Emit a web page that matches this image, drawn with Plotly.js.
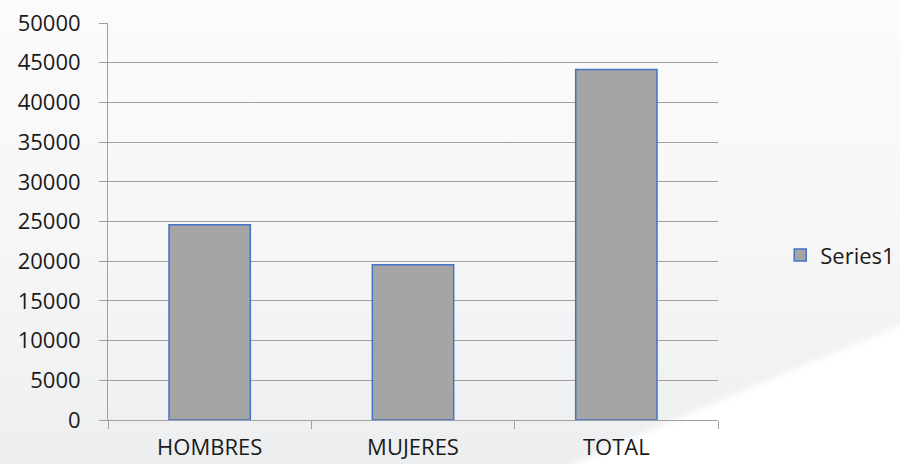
<!DOCTYPE html>
<html>
<head>
<meta charset="utf-8">
<script src="https://cdn.plot.ly/plotly-3.0.1.min.js"></script>
<style>
  html, body { margin: 0; padding: 0; width: 900px; height: 464px; overflow: hidden; }
  body { background: linear-gradient(to bottom, #fbfbfb 0%, #f6f6f7 55%, #eceef0 100%); position: relative; }
  #bg { position: absolute; left: 0; top: 0; width: 900px; height: 464px; }
  #chart { position: absolute; left: 0; top: 0; width: 900px; height: 464px; }
</style>
</head>
<body>
<svg id="bg" width="900" height="464">
  <defs>
    <filter id="blur"><feGaussianBlur stdDeviation="3"/></filter>
  </defs>
  <path d="M 560 470 Q 740 390 910 322 L 910 470 Z" fill="#ffffff" filter="url(#blur)"/>
</svg>
<div id="chart"></div>
<script>
const categories = ["HOMBRES", "MUJERES", "TOTAL"];
const series1 = [24600, 19550, 44150];
const yTicks = [0, 5000, 10000, 15000, 20000, 25000, 30000, 35000, 40000, 45000, 50000];

const font = "Open Sans, Noto Sans, sans-serif";

const data = [{
  type: "bar",
  name: "Series1",
  x: categories,
  y: series1,
  marker: { color: "#a5a5a5", line: { color: "#4472c4", width: 1.5 } },
  hoverinfo: "x+y"
}];

const layout = {
  width: 900, height: 464,
  margin: { l: 108, r: 182, t: 23, b: 44, pad: 0, autoexpand: false },
  paper_bgcolor: "rgba(0,0,0,0)",
  plot_bgcolor: "rgba(0,0,0,0)",
  bargap: 0.6,
  font: { family: font, size: 22, color: "#1a1a1a" },
  showlegend: true,
  legend: {
    x: 1.102, y: 0.415, xanchor: "left", yanchor: "middle",
    bgcolor: "rgba(0,0,0,0)",
    font: { family: font, size: 22, color: "#1a1a1a" },
    itemwidth: 30
  },
  xaxis: {
    type: "category",
    showgrid: false,
    showline: true, linecolor: "#a0a0a0", linewidth: 1,
    ticks: "outside", ticklen: 8, tickcolor: "#a0a0a0", tickwidth: 1,
    tickson: "boundaries",
    ticklabelstandoff: 8,
    tickfont: { family: font, size: 22, color: "#1a1a1a" },
    zeroline: false,
    fixedrange: true
  },
  yaxis: {
    range: [0, 50000],
    tickmode: "array",
    tickvals: yTicks,
    ticktext: yTicks.map(String),
    showgrid: true, gridcolor: "#a0a0a0", gridwidth: 1,
    showline: true, linecolor: "#a0a0a0", linewidth: 1,
    ticks: "outside", ticklen: 8, tickcolor: "#a0a0a0", tickwidth: 1,
    ticklabelstandoff: 14,
    tickfont: { family: font, size: 22, color: "#1a1a1a" },
    zeroline: false,
    fixedrange: true
  }
};

Plotly.newPlot("chart", data, layout, { displayModeBar: false });
</script>
</body>
</html>
